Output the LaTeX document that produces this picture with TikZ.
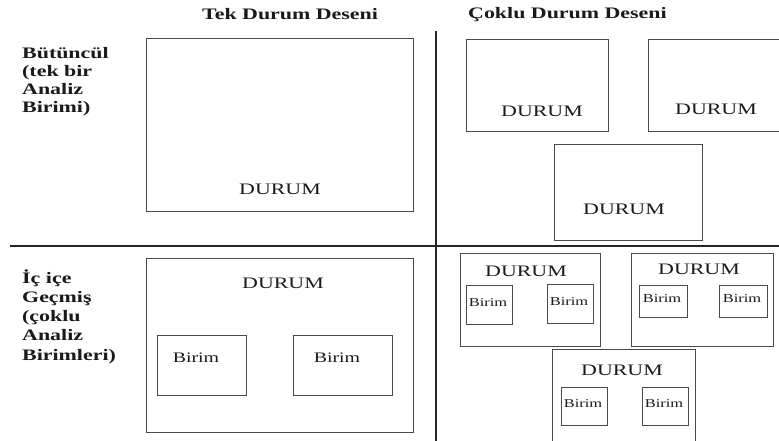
\documentclass[tikz,border=0pt]{standalone}
\usepackage{fontspec}
\setmainfont[FakeStretch=1.37]{Liberation Serif}
\definecolor{boxgray}{HTML}{4A4A4A}
\definecolor{txt}{HTML}{1A1A1A}
\begin{document}
\begin{tikzpicture}[x=1pt,y=-1pt,
  box/.style={draw=boxgray, line width=1.1pt, inner sep=0pt, anchor=north west},
  divider/.style={draw=black!85, line width=1.5pt},
  head/.style={font=\fontsize{16}{18}\selectfont\bfseries, text=txt, anchor=base west, inner sep=0pt},
  rowlbl/.style={text=txt, anchor=base west, inner sep=0pt, align=left},
  durum/.style={font=\fontsize{16}{18}\selectfont, text=txt, inner sep=0pt},
  birimL/.style={font=\fontsize{14.5}{16}\selectfont, text=txt, inner sep=0pt},
  birimS/.style={font=\fontsize{12}{14}\selectfont, text=txt, inner sep=0pt}]
\useasboundingbox[fill=white] (0,0) rectangle (779,441);

% headers
\node[head] (h1) at (202,20) {Tek Durum Deseni};
\node[head] (h2) at (468,19) {Çoklu Durum Deseni};

% row labels (anchor = baseline of last line)
\node[rowlbl, font=\fontsize{16}{18}\selectfont\bfseries] (r1) at (22,113) {Bütüncül\\(tek bir\\Analiz\\Birimi)};
\node[rowlbl, font=\fontsize{16}{19.2}\selectfont\bfseries] (r2) at (22,360) {İç içe\\Geçmiş\\(çoklu\\Analiz\\Birimleri)};

% dividers
\coordinate (vtop) at (436,31);
\coordinate (vbot) at (436,442);
\coordinate (hl) at (10,246);
\coordinate (hr) at (780,246);
\draw[divider] (vtop) -- (vbot);
\draw[divider] (hl) -- (hr);

% holistic single case
\node[box, minimum width=267pt, minimum height=173pt] (c1) at (146,38) {};
\node[durum] (d1) at (280,189) {DURUM};

% holistic multiple case
\node[box, minimum width=142pt, minimum height=92pt] (c2) at (466,39) {};
\node[durum] (d2) at (542,111) {DURUM};
\node[box, minimum width=145pt, minimum height=92pt] (c3) at (648,39) {};
\node[durum] (d3) at (716,109) {DURUM};
\node[box, minimum width=148pt, minimum height=96pt] (c4) at (554,144) {};
\node[durum] (d4) at (624,209) {DURUM};

% embedded single case
\node[box, minimum width=267pt, minimum height=174pt] (c5) at (146,258) {};
\node[durum] (d5) at (283,283) {DURUM};
\node[box, minimum width=89pt, minimum height=60pt] (b5a) at (157,335) {};
\node[birimL] (t5a) at (196,358) {Birim};
\node[box, minimum width=99pt, minimum height=60pt] (b5b) at (293,335) {};
\node[birimL] (t5b) at (337,358) {Birim};

% embedded multiple case
\node[box, minimum width=140pt, minimum height=93pt] (c6) at (460,253) {};
\node[durum] (d6) at (526,271) {DURUM};
\node[box, minimum width=46pt, minimum height=39pt] (b6a) at (466,285) {};
\node[birimS] (t6a) at (488,303) {Birim};
\node[box, minimum width=46pt, minimum height=39pt] (b6b) at (547,284) {};
\node[birimS] (t6b) at (569,302) {Birim};

\node[box, minimum width=142pt, minimum height=93pt] (c7) at (631,253) {};
\node[durum] (d7) at (699,269) {DURUM};
\node[box, minimum width=48pt, minimum height=32pt] (b7a) at (639,285) {};
\node[birimS] (t7a) at (662,299) {Birim};
\node[box, minimum width=48pt, minimum height=32pt] (b7b) at (719,285) {};
\node[birimS] (t7b) at (742,299) {Birim};

\node[box, minimum width=143pt, minimum height=100pt] (c8) at (552,349) {};
\node[durum] (d8) at (622,370) {DURUM};
\node[box, minimum width=46pt, minimum height=38pt] (b8a) at (561,387) {};
\node[birimS] (t8a) at (583,404) {Birim};
\node[box, minimum width=46pt, minimum height=38pt] (b8b) at (642,387) {};
\node[birimS] (t8b) at (664,404) {Birim};
\end{tikzpicture}
\end{document}
